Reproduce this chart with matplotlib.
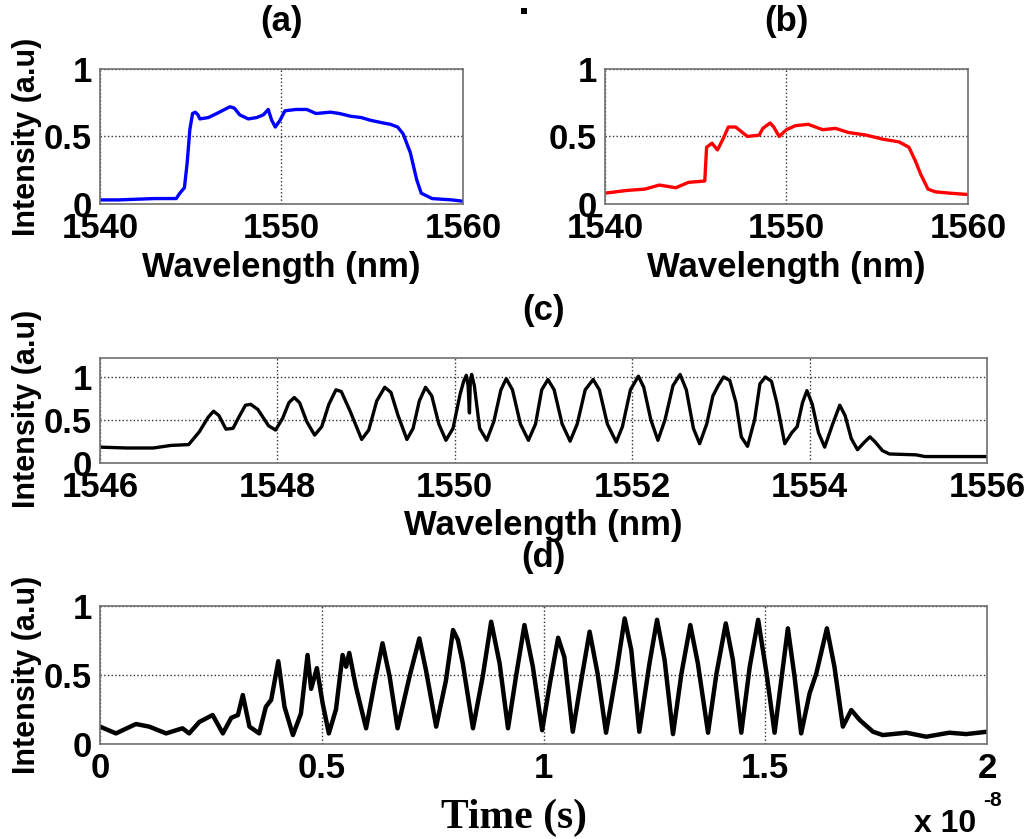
import matplotlib
matplotlib.use("Agg")
import matplotlib.pyplot as plt
from matplotlib.patches import Rectangle

plt.rcParams["font.family"] = ["Liberation Sans", "DejaVu Sans"]
plt.rcParams["font.weight"] = "bold"
plt.rcParams["axes.labelweight"] = "bold"
plt.rcParams["axes.titleweight"] = "bold"

# (a) input spectrum
wl_a = [1540, 1541, 1542, 1543, 1544, 1544.2, 1544.4, 1544.65, 1544.8, 1544.95,
        1545.1, 1545.25, 1545.4, 1545.5, 1545.97, 1546.43, 1547.16, 1547.4,
        1547.7, 1548.17, 1548.63, 1549.0, 1549.27, 1549.46, 1549.66, 1549.92,
        1550.19, 1550.8, 1551.4, 1551.9, 1552.7, 1553.2, 1553.8, 1554.4,
        1554.9, 1555.6, 1556.0, 1556.4, 1556.7, 1557.1, 1557.45, 1557.7,
        1558.3, 1559.4, 1560]
int_a = [0.03, 0.03, 0.035, 0.04, 0.04, 0.04, 0.08, 0.12, 0.30, 0.55,
         0.67, 0.68, 0.66, 0.63, 0.64, 0.67, 0.72, 0.71,
         0.66, 0.63, 0.64, 0.66, 0.70, 0.62, 0.57, 0.62,
         0.69, 0.70, 0.70, 0.67, 0.68, 0.67, 0.65, 0.64,
         0.62, 0.60, 0.59, 0.57, 0.52, 0.38, 0.18, 0.08,
         0.04, 0.03, 0.02]

# (b) filtered spectrum
wl_b = [1540, 1541.2, 1542.2, 1543.0, 1543.9, 1544.6, 1545.5, 1545.6, 1545.9,
        1546.2, 1546.5, 1546.8, 1547.2, 1547.85, 1548.5, 1548.7, 1549.1,
        1549.3, 1549.6, 1550.0, 1550.5, 1551.2, 1552.0, 1552.7, 1553.4,
        1554.4, 1555.3, 1556.2, 1556.75, 1557.1, 1557.4, 1557.8, 1558.2,
        1559.0, 1560]
int_b = [0.08, 0.10, 0.11, 0.14, 0.12, 0.16, 0.17, 0.42, 0.45,
         0.40, 0.48, 0.57, 0.57, 0.50, 0.51, 0.56, 0.60,
         0.57, 0.50, 0.55, 0.58, 0.59, 0.55, 0.56, 0.53,
         0.51, 0.48, 0.46, 0.42, 0.32, 0.22, 0.11, 0.09,
         0.08, 0.07]

# (c) spectral interference pattern
wl_c = [1546.0, 1546.3, 1546.6, 1546.8, 1547.0, 1547.12, 1547.22, 1547.28, 1547.34,
        1547.42, 1547.5, 1547.57, 1547.64, 1547.70, 1547.78, 1547.90, 1547.98,
        1548.06, 1548.13, 1548.19, 1548.25, 1548.33, 1548.42, 1548.50, 1548.58,
        1548.66, 1548.72, 1548.82, 1548.95, 1549.03, 1549.12, 1549.21, 1549.28,
        1549.36, 1549.46, 1549.53, 1549.60, 1549.67, 1549.74, 1549.82, 1549.90,
        1549.98, 1550.06, 1550.10, 1550.13, 1550.15, 1550.165, 1550.175, 1550.19,
        1550.22, 1550.28, 1550.36, 1550.44, 1550.52, 1550.58, 1550.65, 1550.74,
        1550.83, 1550.91, 1550.98, 1551.05, 1551.12, 1551.21, 1551.30, 1551.38,
        1551.47, 1551.56, 1551.63, 1551.72, 1551.82, 1551.89, 1551.98, 1552.07,
        1552.13, 1552.21, 1552.29, 1552.37, 1552.46, 1552.54, 1552.61, 1552.69,
        1552.76, 1552.84, 1552.91, 1552.97, 1553.03, 1553.10, 1553.17, 1553.23,
        1553.30, 1553.38, 1553.44, 1553.50, 1553.57, 1553.63, 1553.72, 1553.80,
        1553.86, 1553.92, 1553.97, 1554.03, 1554.10, 1554.17, 1554.26, 1554.34,
        1554.40, 1554.47, 1554.54, 1554.62, 1554.68, 1554.74, 1554.82, 1554.90,
        1555.2, 1555.3, 1556.0]
int_c = [0.18, 0.17, 0.17, 0.20, 0.21, 0.36, 0.53, 0.60, 0.55,
         0.39, 0.40, 0.54, 0.67, 0.68, 0.62, 0.43, 0.38,
         0.52, 0.70, 0.76, 0.70, 0.48, 0.32, 0.42, 0.68,
         0.85, 0.83, 0.60, 0.27, 0.38, 0.72, 0.88, 0.82,
         0.55, 0.27, 0.40, 0.72, 0.88, 0.78, 0.45, 0.26,
         0.40, 0.80, 0.95, 1.02, 0.90, 0.58, 0.95, 1.03,
         0.90, 0.40, 0.26, 0.48, 0.85, 0.98, 0.85, 0.45,
         0.26, 0.45, 0.85, 0.97, 0.85, 0.45, 0.25, 0.45,
         0.85, 0.97, 0.85, 0.45, 0.24, 0.42, 0.85, 1.01,
         0.88, 0.50, 0.26, 0.50, 0.90, 1.03, 0.85, 0.40,
         0.22, 0.45, 0.78, 0.90, 1.00, 0.96, 0.70, 0.30,
         0.19, 0.50, 0.92, 1.00, 0.95, 0.70, 0.22, 0.35,
         0.42, 0.70, 0.84, 0.68, 0.35, 0.18, 0.45, 0.67,
         0.55, 0.28, 0.15, 0.24, 0.30, 0.24, 0.14, 0.10,
         0.09, 0.07, 0.07]

# (d) temporal trace, time in units of 1e-8 s
t_d = [0, 0.036, 0.081, 0.111, 0.149, 0.186, 0.201, 0.224, 0.254, 0.277,
       0.296, 0.311, 0.322, 0.337, 0.359, 0.374, 0.386, 0.402, 0.416, 0.435,
       0.453, 0.468, 0.476, 0.489, 0.502, 0.516, 0.532, 0.547, 0.555, 0.562,
       0.577, 0.600, 0.619, 0.637, 0.653, 0.671, 0.698, 0.720, 0.735, 0.758,
       0.780, 0.796, 0.807, 0.818, 0.841, 0.863, 0.882, 0.901, 0.920, 0.938,
       0.957, 0.976, 0.997, 1.015, 1.033, 1.047, 1.066, 1.085, 1.104, 1.122,
       1.141, 1.164, 1.183, 1.198, 1.216, 1.239, 1.256, 1.273, 1.292, 1.311,
       1.331, 1.348, 1.371, 1.390, 1.411, 1.427, 1.446, 1.465, 1.484, 1.503,
       1.521, 1.536, 1.551, 1.566, 1.581, 1.600, 1.615, 1.639, 1.656, 1.675,
       1.694, 1.713, 1.743, 1.765, 1.818, 1.863, 1.915, 1.953, 2.0]
int_d = [0.126, 0.077, 0.145, 0.126, 0.077, 0.114, 0.077, 0.16, 0.21, 0.077,
         0.19, 0.21, 0.355, 0.126, 0.077, 0.27, 0.32, 0.60, 0.27, 0.065,
         0.22, 0.645, 0.40, 0.55, 0.295, 0.077, 0.25, 0.645, 0.56, 0.66,
         0.415, 0.114, 0.44, 0.73, 0.49, 0.114, 0.49, 0.765, 0.535, 0.126,
         0.46, 0.826, 0.754, 0.585, 0.114, 0.49, 0.886, 0.585, 0.114, 0.49,
         0.862, 0.56, 0.10, 0.45, 0.77, 0.63, 0.089, 0.46, 0.814, 0.51,
         0.082, 0.51, 0.91, 0.68, 0.089, 0.585, 0.90, 0.61, 0.072, 0.51,
         0.862, 0.585, 0.082, 0.51, 0.874, 0.61, 0.082, 0.56, 0.90, 0.51,
         0.082, 0.46, 0.838, 0.49, 0.077, 0.367, 0.51, 0.838, 0.56, 0.126,
         0.246, 0.174, 0.089, 0.065, 0.082, 0.053, 0.082, 0.072, 0.089]

ticks_ab = [1540, 1550, 1560]
ticks_c = [1546, 1548, 1550, 1552, 1554, 1556]
ticks_d = [0, 0.5, 1, 1.5, 2]
ticklabels_d = ["0", "0.5", "1", "1.5", "2"]
yticks = [0, 0.5, 1]
yticklabels = ["0", "0.5", "1"]

fig = plt.figure(figsize=(10.32, 8.39), dpi=100)


def style(ax, xticks, xticklabels, xlim, ylim):
    ax.set_xlim(xlim)
    ax.set_ylim(ylim)
    ax.set_xticks(xticks, xticklabels)
    ax.set_yticks(yticks, yticklabels)
    ax.grid(True, ls=":", color="#333333", lw=1)
    for s in ax.spines.values():
        s.set_color("#707070")
        s.set_linewidth(1.2)
    ax.tick_params(length=0, labelsize=25, pad=6)


# panel (a)
ax_a = fig.add_axes([0.0969, 0.7569, 0.3517, 0.1609])
ax_a.plot(wl_a, int_a, color="#0000ff", lw=2.4)
style(ax_a, ticks_ab, [str(v) for v in ticks_ab], (1540, 1560), (0, 1))
ax_a.set_title("(a)", fontsize=25, y=1.289, va="center")
ax_a.set_xlabel("Wavelength (nm)", fontsize=25)
ax_a.xaxis.set_label_coords(0.5, -0.474)
ax_a.xaxis.label.set_va("center")
ax_a.set_ylabel("Intensity (a.u)", fontsize=22)
ax_a.yaxis.set_label_coords(-0.201, 0.5)
ax_a.yaxis.label.set_va("center")

# panel (b)
ax_b = fig.add_axes([0.5862, 0.7569, 0.3517, 0.1609])
ax_b.plot(wl_b, int_b, color="#ff0000", lw=2.4)
style(ax_b, ticks_ab, [str(v) for v in ticks_ab], (1540, 1560), (0, 1))
ax_b.set_title("(b)", fontsize=25, y=1.289, va="center")
ax_b.set_xlabel("Wavelength (nm)", fontsize=25)
ax_b.xaxis.set_label_coords(0.5, -0.474)
ax_b.xaxis.label.set_va("center")
# small stray mark above the top row, as in the source figure
fig.add_artist(Rectangle((521 / 1032, 1 - 14 / 839), 6 / 1032, 6 / 839,
                         transform=fig.transFigure, color="black", lw=0))

# panel (c)
ax_c = fig.add_axes([0.0969, 0.4487, 0.8595, 0.1244])
ax_c.plot(wl_c, int_c, color="black", lw=2.4)
style(ax_c, ticks_c, [str(v) for v in ticks_c], (1546, 1556), (0, 1.22))
ax_c.set_title("(c)", fontsize=25, y=1.374, va="center")
ax_c.set_xlabel("Wavelength (nm)", fontsize=25)
ax_c.xaxis.set_label_coords(0.5, -0.6)
ax_c.xaxis.label.set_va("center")
ax_c.set_ylabel("Intensity (a.u)", fontsize=22)
ax_c.yaxis.set_label_coords(-0.0823, 0.51)
ax_c.yaxis.label.set_va("center")

# panel (d)
ax_d = fig.add_axes([0.0969, 0.1132, 0.8595, 0.1645])
ax_d.plot(t_d, int_d, color="black", lw=3.2)
style(ax_d, ticks_d, ticklabels_d, (0, 2), (0, 1))
ax_d.set_title("(d)", fontsize=25, y=1.29, va="center")
ax_d.set_xlabel("Time (s)", fontsize=30, family="Liberation Serif")
ax_d.xaxis.set_label_coords(0.467, -0.536)
ax_d.xaxis.label.set_va("center")
ax_d.set_ylabel("Intensity (a.u)", fontsize=22)
ax_d.yaxis.set_label_coords(-0.0823, 0.5)
ax_d.yaxis.label.set_va("center")
fig.text(945 / 1032, 1 - 824 / 839, "x 10", fontsize=23, ha="center", va="center")
fig.text(992 / 1032, 1 - 800 / 839, "-8", fontsize=15, ha="center", va="center")

fig.savefig("out.png", dpi=100)
